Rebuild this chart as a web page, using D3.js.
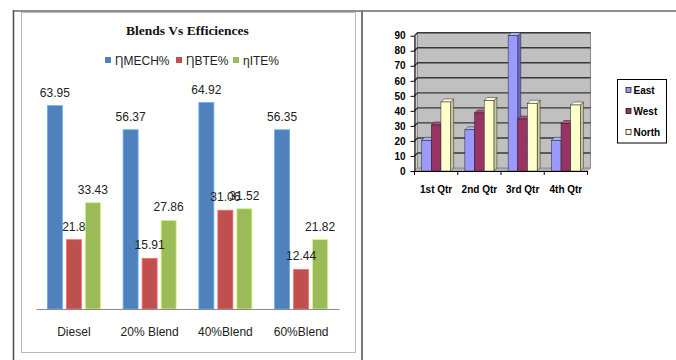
<!DOCTYPE html>
<html>
<head>
<meta charset="utf-8">
<script src="https://cdn.jsdelivr.net/npm/d3@7"></script>
<style>
  html, body { margin: 0; padding: 0; background: #fff; }
  svg { display: block; }
</style>
</head>
<body>
<svg id="chart" width="676" height="360"></svg>
<script>
// ---- Efficiency chart data ----
const blendCategories = ["Diesel", "20% Blend", "40%Blend", "60%Blend"];
const seriesNames = ["\u0220MECH%", "\u0220BTE%", "\u03B7ITE%"];
const mechEff = [63.95, 56.37, 64.92, 56.35];
const bteEff = [21.8, 15.91, 31.06, 12.44];
const iteEff = [33.43, 27.86, 31.52, 21.82];
const seriesColors = ["#4F81BD", "#C0504D", "#9BBB59"];

// ---- Regional quarterly data ----
const quarters = ["1st Qtr", "2nd Qtr", "3rd Qtr", "4th Qtr"];
const regions = ["East", "West", "North"];
const eastVals = [20.4, 27.4, 90, 20.4];
const westVals = [30.6, 38.6, 34.6, 31.6];
const northVals = [45.9, 46.9, 45, 43.9];
const regionTicks = [0, 10, 20, 30, 40, 50, 60, 70, 80, 90];
const regionColors = [
  { front: "#9999FF", side: "#6B6BC8", top: "#B8B8FF" },
  { front: "#993366", side: "#6E2449", top: "#B0507F" },
  { front: "#FFFFCC", side: "#C9C99A", top: "#FFFFE6" }
];

const svg = d3.select("#chart");
const sans = "'Liberation Sans', Arial, sans-serif";

// ---- Table rules ----
svg.append("line").attr("x1", 13).attr("x2", 676).attr("y1", 11).attr("y2", 11)
  .attr("stroke", "#6a6a6a").attr("stroke-width", 1.6);
svg.append("line").attr("x1", 13.5).attr("x2", 13.5).attr("y1", 10).attr("y2", 360)
  .attr("stroke", "#555").attr("stroke-width", 1.6);
svg.append("line").attr("x1", 362).attr("x2", 362).attr("y1", 10).attr("y2", 360)
  .attr("stroke", "#777").attr("stroke-width", 2);

// ================= Left chart =================
const left = svg.append("g");
left.append("rect").attr("x", 21.5).attr("y", 12.5).attr("width", 334).attr("height", 340)
  .attr("fill", "#fff").attr("stroke", "#b9b9b9").attr("stroke-width", 1);

left.append("text").attr("x", 187.5).attr("y", 35)
  .attr("text-anchor", "middle")
  .attr("font-family", "'Liberation Serif', 'Times New Roman', serif")
  .attr("font-weight", "bold").attr("font-size", 13.5).attr("fill", "#111")
  .text("Blends Vs Efficiences");

// Legend
const legendX = [105, 176, 233];
const lg = left.selectAll("g.lg").data(seriesNames).join("g").attr("class", "lg")
  .attr("transform", (d, i) => `translate(${legendX[i]},57)`);
lg.append("rect").attr("width", 6).attr("height", 6).attr("fill", (d, i) => seriesColors[i]);
lg.append("text").attr("x", 10).attr("y", 8.3)
  .attr("font-family", sans).attr("font-size", 12).attr("fill", "#222")
  .text(d => d);

const x0 = d3.scaleBand().domain(blendCategories).range([36, 339])
  .paddingInner(0.3).paddingOuter(0.15);
const x1 = d3.scaleBand().domain(d3.range(seriesNames.length))
  .range([0, x0.bandwidth()]).paddingInner(0.2105);
const yL = d3.scaleLinear().domain([0, 70]).range([309, 309 - 70 * 3.18]);

const effSeries = [mechEff, bteEff, iteEff];
const barData = [];
blendCategories.forEach((c, ci) => {
  effSeries.forEach((s, si) => barData.push({ cat: c, si, v: s[ci] }));
});

left.selectAll("rect.bar").data(barData).join("rect").attr("class", "bar")
  .attr("x", d => x0(d.cat) + x1(d.si))
  .attr("y", d => yL(d.v))
  .attr("width", x1.bandwidth())
  .attr("height", d => yL(0) - yL(d.v))
  .attr("fill", d => seriesColors[d.si])
  .attr("stroke", d => d3.color(seriesColors[d.si]).brighter(0.8))
  .attr("stroke-width", 0.8);

const xAxisL = left.append("g").attr("transform", "translate(0,309)")
  .call(d3.axisBottom(x0).tickSize(0).tickPadding(18).tickSizeOuter(0));
xAxisL.select(".domain").attr("stroke", "#8a8a8a").attr("stroke-width", 1);
xAxisL.selectAll("text").attr("font-family", sans).attr("font-size", 12).attr("fill", "#222");

left.selectAll("text.val").data(barData).join("text").attr("class", "val")
  .attr("x", d => x0(d.cat) + x1(d.si) + x1.bandwidth() / 2)
  .attr("y", d => yL(d.v) - 9)
  .attr("text-anchor", "middle")
  .attr("font-family", sans).attr("font-size", 12).attr("fill", "#222")
  .text(d => d.v);

// ================= Right chart (3-D columns) =================
const right = svg.append("g");
const depth = 3;
const xR = d3.scaleBand().domain(quarters).range([414.5, 587.5]);
const yR = d3.scaleLinear().domain([0, 90]).range([171, 35.7]);
const xR1 = d3.scaleBand().domain(d3.range(regions.length))
  .range([0, 29]);
const groupOffset = (xR.bandwidth() - 29) / 2;
const floorY = yR(0);
const x0R = xR.range()[0], x1R = xR.range()[1];

// side wall, floor and back wall
right.append("polygon")
  .attr("points", [[x0R, floorY], [x0R, yR(90)], [x0R + depth, yR(90) - depth], [x0R + depth, floorY - depth]].join(" "))
  .attr("fill", "#cfcfcf").attr("stroke", "#8a8a8a").attr("stroke-width", 0.6);
right.append("polygon")
  .attr("points", [[x0R, floorY], [x1R, floorY], [x1R + depth, floorY - depth], [x0R + depth, floorY - depth]].join(" "))
  .attr("fill", "#b5b5b5").attr("stroke", "#8a8a8a").attr("stroke-width", 0.6);
right.append("rect")
  .attr("x", x0R + depth).attr("y", yR(90) - depth)
  .attr("width", x1R - x0R).attr("height", floorY - yR(90))
  .attr("fill", "#C0C0C0").attr("stroke", "#8a8a8a").attr("stroke-width", 1);

// gridlines on walls
right.selectAll("polyline.grid").data(regionTicks.filter(t => t > 0)).join("polyline")
  .attr("class", "grid")
  .attr("points", t => [[x0R, yR(t)], [x0R + depth, yR(t) - depth], [x1R + depth, yR(t) - depth]].join(" "))
  .attr("fill", "none").attr("stroke", "#383838").attr("stroke-width", 1.4);

// columns
const regionSeries = [eastVals, westVals, northVals];
const colData = [];
quarters.forEach((q, qi) => {
  regionSeries.forEach((s, ri) => colData.push({ q, ri, v: s[qi] }));
});
const colG = right.selectAll("g.col").data(colData).join("g").attr("class", "col");
colG.each(function (d) {
  const g = d3.select(this);
  const x = xR(d.q) + groupOffset + xR1(d.ri);
  const w = xR1.bandwidth();
  const y = yR(d.v);
  const c = regionColors[d.ri];
  g.append("polygon")
    .attr("points", [[x + w, y], [x + w + depth, y - depth], [x + w + depth, floorY - depth], [x + w, floorY]].join(" "))
    .attr("fill", c.side).attr("stroke", "#222").attr("stroke-width", 0.5);
  g.append("polygon")
    .attr("points", [[x, y], [x + depth, y - depth], [x + w + depth, y - depth], [x + w, y]].join(" "))
    .attr("fill", c.top).attr("stroke", "#222").attr("stroke-width", 0.5);
  g.append("rect").attr("x", x).attr("y", y).attr("width", w).attr("height", floorY - y)
    .attr("fill", c.front).attr("stroke", "#222").attr("stroke-width", 0.5);
});

// axes
const yAxisR = right.append("g").attr("transform", `translate(${x0R},0)`)
  .call(d3.axisLeft(yR).tickValues(regionTicks).tickSize(4).tickPadding(5).tickSizeOuter(0));
yAxisR.select(".domain").attr("stroke", "#000");
yAxisR.selectAll("line").attr("stroke", "#000");
yAxisR.selectAll("text").attr("font-family", sans).attr("font-weight", "bold")
  .attr("font-size", 10).attr("fill", "#000");

const xAxisR = right.append("g").attr("transform", `translate(0,${floorY})`)
  .call(d3.axisBottom(xR).tickSize(0).tickPadding(15).tickSizeOuter(0));
xAxisR.select(".domain").attr("stroke", "#000");
xAxisR.selectAll("text").attr("font-family", sans).attr("font-weight", "bold")
  .attr("font-size", 10).attr("fill", "#000");
const bounds = quarters.map(q => xR(q)).concat([x1R]);
right.selectAll("line.qtick").data(bounds).join("line").attr("class", "qtick")
  .attr("x1", d => d).attr("x2", d => d)
  .attr("y1", floorY).attr("y2", floorY + 4)
  .attr("stroke", "#000");

// legend
const legR = right.append("g").attr("transform", "translate(617.5,79.5)");
legR.append("rect").attr("width", 49).attr("height", 63.5)
  .attr("fill", "#fff").attr("stroke", "#000").attr("stroke-width", 1);
const legItems = legR.selectAll("g.item").data(regions).join("g").attr("class", "item")
  .attr("transform", (d, i) => `translate(8.5,${10.5 + i * 21})`);
legItems.append("rect").attr("x", 0).attr("y", -2.5).attr("width", 5).attr("height", 5)
  .attr("fill", (d, i) => regionColors[i].front).attr("stroke", "#000").attr("stroke-width", 0.7);
legItems.append("text").attr("x", 7.5).attr("y", 3.6)
  .attr("font-family", sans).attr("font-weight", "bold").attr("font-size", 10).attr("fill", "#000")
  .text(d => d);
</script>
</body>
</html>
